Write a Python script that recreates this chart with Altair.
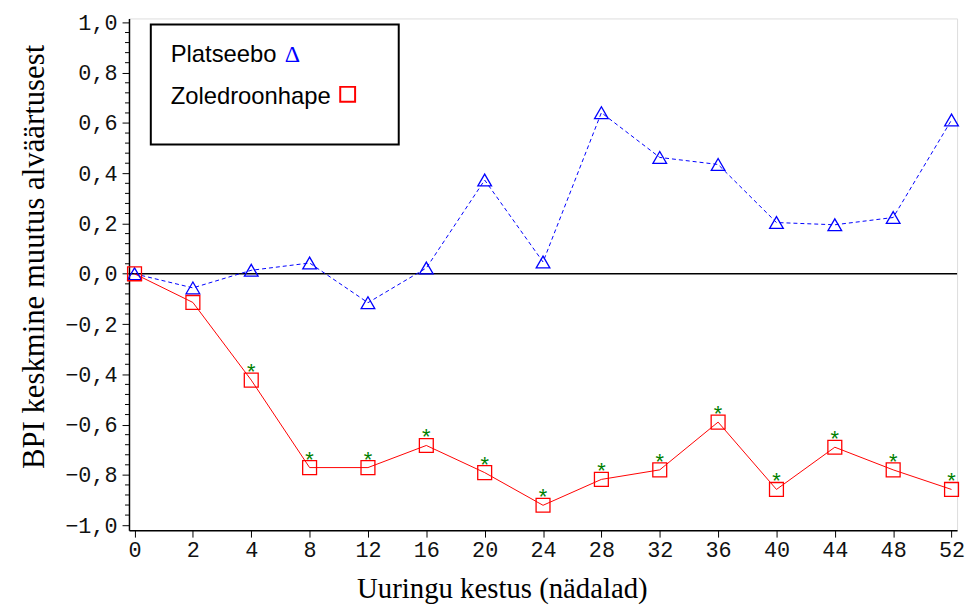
import altair as alt
import pandas as pd

# ---- data ----
weeks = ["0", "2", "4", "8", "12", "16", "20", "24", "28", "32", "36", "40", "44", "48", "52"]
placebo = [0.0, -0.056, 0.014, 0.043, -0.115, 0.023, 0.373, 0.047, 0.641, 0.463, 0.435, 0.204, 0.195, 0.224, 0.612]
zoledronic = [0.0, -0.114, -0.423, -0.771, -0.771, -0.683, -0.791, -0.921, -0.818, -0.78, -0.59, -0.858, -0.69, -0.78, -0.858]
significant = [False, False, True, True, True, True, True, True, True, True, True, True, True, True, True]

y_major = [-1.0, -0.8, -0.6, -0.4, -0.2, 0.0, 0.2, 0.4, 0.6, 0.8, 1.0]
y_minor = [round(-1.0 + 0.04 * i, 2) for i in range(51) if i % 5 != 0]

df_p = pd.DataFrame({"week": weeks, "value": placebo})
df_z = pd.DataFrame({"week": weeks, "value": zoledronic, "sig": significant})
df_star = df_z[df_z["sig"]]
df_zero = pd.DataFrame({"value": [0.0]})
df_minor = pd.DataFrame({"value": y_minor})
one = pd.DataFrame({"a": [0]})

W, H = 835, 516
MONO = "Liberation Mono"

x_scale = alt.Scale(type="point", domain=weeks, padding=0.095)
y_scale = alt.Scale(domain=[-1.02, 1.016], nice=False, zero=False)

x_axis = alt.Axis(
    title="Uuringu kestus (nädalad)", labelAngle=0, labelFont=MONO, labelFontSize=22,
    labelColor="#111", labelPadding=3, tickSize=7, tickColor="black", tickWidth=1,
    domainColor="black", domainWidth=1.5, grid=False,
    titleFont="Liberation Serif", titleFontSize=29, titleFontWeight="normal", titleColor="black",
    titleX=376, titleY=68, titleAlign="center", titleBaseline="alphabetic",
)
y_axis = alt.Axis(
    title="BPI keskmine muutus alväärtusest", values=y_major,
    labelExpr="replace(format(datum.value, '.1f'), '.', ',')",
    labelFont=MONO, labelFontSize=22, labelColor="#111", labelPadding=5,
    tickSize=7, tickColor="black", tickWidth=1, domainColor="black", domainWidth=1.5, grid=False,
    titleFont="Liberation Serif", titleFontSize=31, titleFontWeight="normal", titleColor="black",
    titleX=-86, titleY=240, titleAngle=-90, titleAlign="center", titleBaseline="alphabetic",
)

X = alt.X("week:O", sort=weeks, scale=x_scale, axis=x_axis)
Y = alt.Y("value:Q", scale=y_scale, axis=y_axis)
Xn = alt.X("week:O", sort=weeks, scale=x_scale)
Yn = alt.Y("value:Q", scale=y_scale)

zero_line = alt.Chart(df_zero).mark_rule(color="black", strokeWidth=1.5).encode(y=Yn)
minor_ticks = alt.Chart(df_minor).mark_rule(color="black", strokeWidth=1).encode(
    y=Yn, x=alt.value(-4), x2=alt.value(0)
)

p_line = alt.Chart(df_p).mark_line(color="blue", strokeWidth=1, strokeDash=[4, 3]).encode(x=X, y=Y)
p_pts = alt.Chart(df_p).mark_point(shape="triangle-up", size=190, filled=False, color="blue",
                                   strokeWidth=1.3, opacity=1).encode(x=Xn, y=Yn)
z_line = alt.Chart(df_z).mark_line(color="red", strokeWidth=1).encode(x=Xn, y=Yn)
z_pts = alt.Chart(df_z).mark_point(shape="square", size=196, filled=False, color="red",
                                   strokeWidth=1.3, opacity=1).encode(x=Xn, y=Yn)
stars = alt.Chart(df_star).mark_text(text="*", color="#008000", fontSize=22, font="Liberation Sans",
                                     baseline="alphabetic", dy=-1).encode(x=Xn, y=Yn)

legend_box = alt.Chart(one).mark_rect(fill="white", stroke="black", strokeWidth=2).encode(
    x=alt.value(22), x2=alt.value(272), y=alt.value(6), y2=alt.value(127)
)
leg_t1 = alt.Chart(one).mark_text(text="Platseebo", align="left", baseline="alphabetic",
                                  font="Liberation Sans", fontSize=24, color="black").encode(
    x=alt.value(42), y=alt.value(44))
leg_t2 = alt.Chart(one).mark_text(text="Zoledroonhape", align="left", baseline="alphabetic",
                                  font="Liberation Sans", fontSize=24, color="black").encode(
    x=alt.value(42), y=alt.value(86))
leg_delta = alt.Chart(one).mark_text(text="Δ", align="left", baseline="alphabetic",
                                     font="Liberation Serif", fontSize=24, color="blue").encode(
    x=alt.value(157), y=alt.value(44))
leg_sq = alt.Chart(one).mark_point(shape="square", size=225, filled=False, color="red",
                                   strokeWidth=2, opacity=1).encode(x=alt.value(220.5), y=alt.value(76.5))

chart = alt.layer(
    zero_line, minor_ticks, p_line, z_line, p_pts, z_pts, stars,
    legend_box, leg_t1, leg_t2, leg_delta, leg_sq,
).properties(
    width=W, height=H,
    autosize=alt.AutoSizeParams(type="none"),
    padding={"left": 122, "top": 8, "right": 9, "bottom": 82},
).configure_view(stroke="#707070", strokeWidth=1.5).configure(background="white")

chart.save("out.html", embed_options={"renderer": "svg", "actions": False})
